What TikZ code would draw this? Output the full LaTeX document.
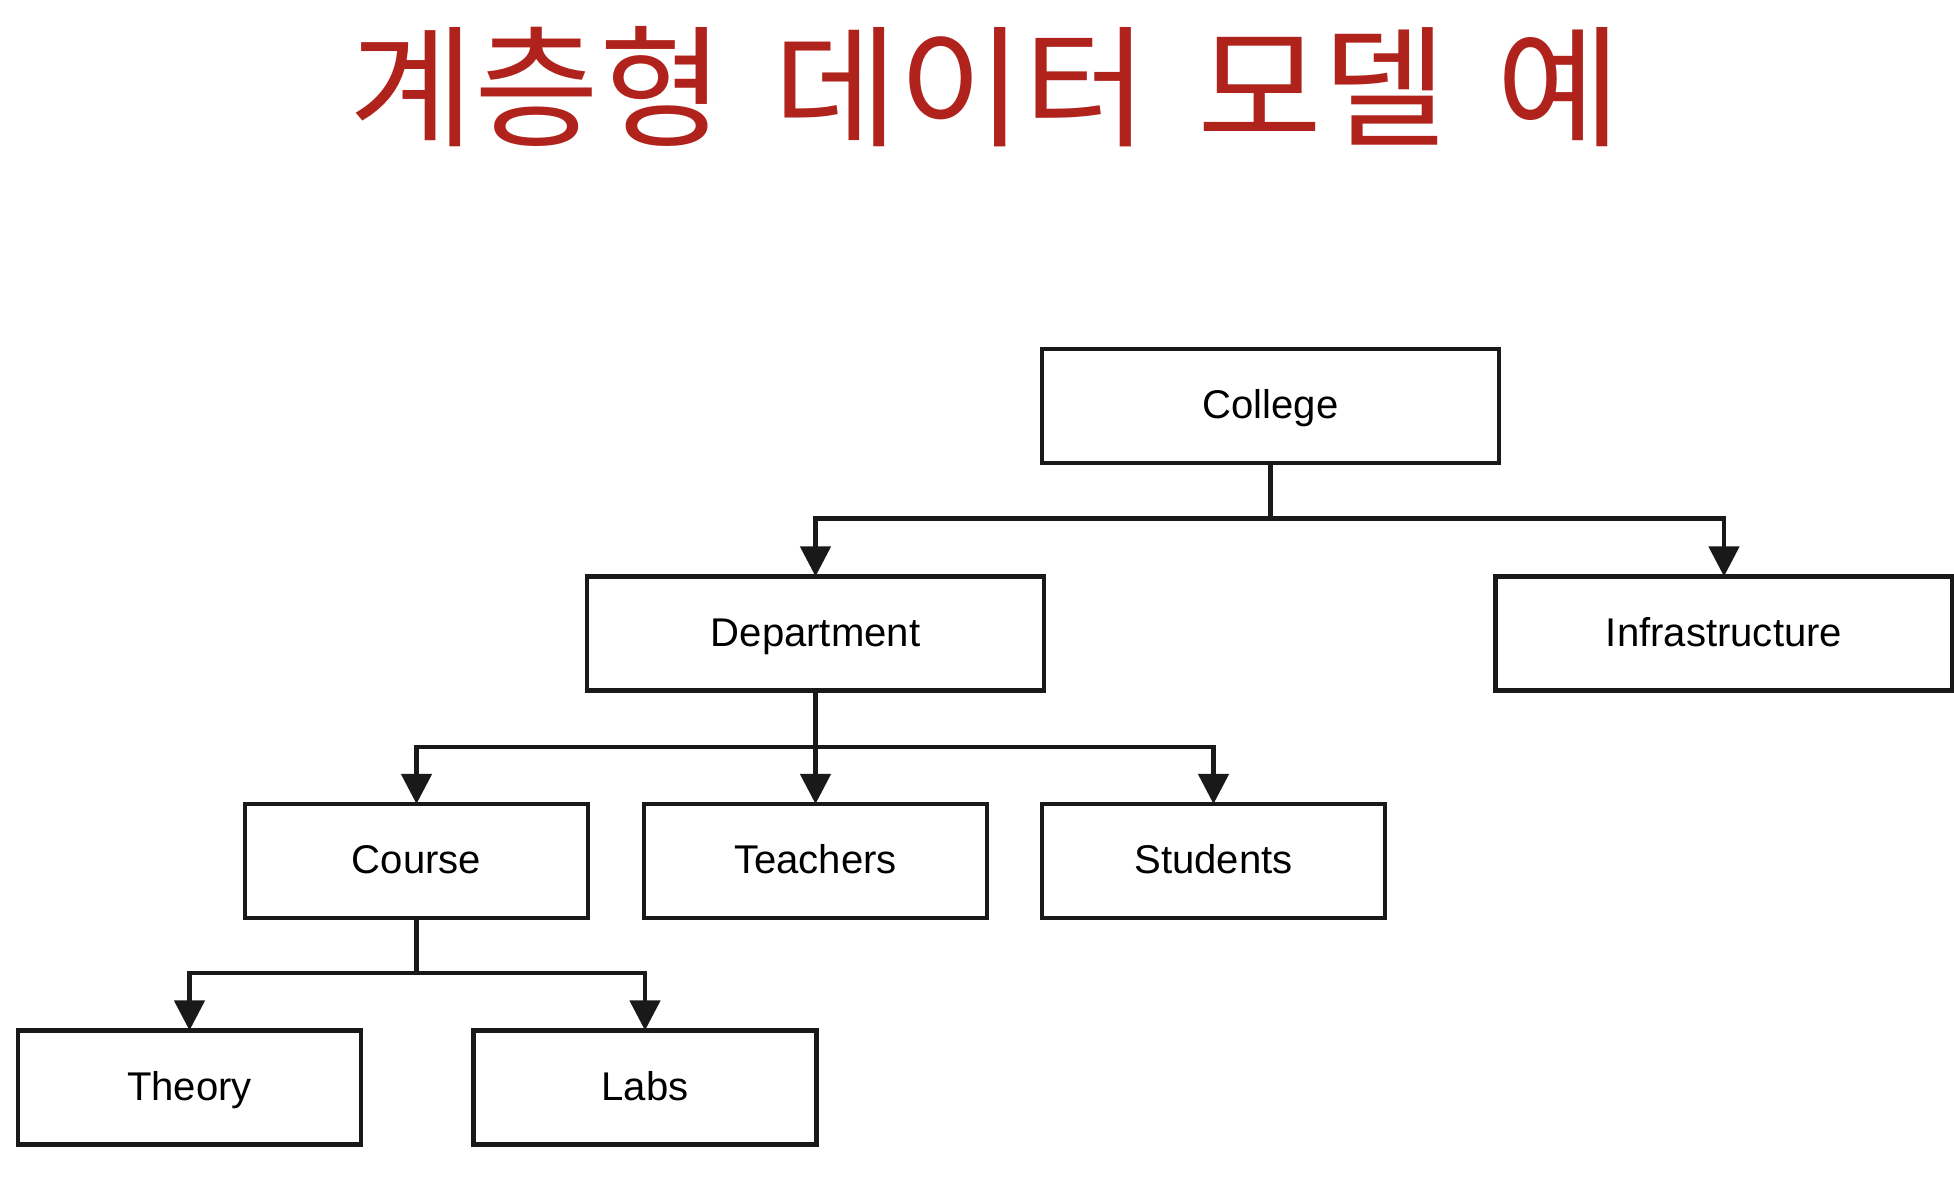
\documentclass[tikz,border=0pt]{standalone}
\usepackage{fontspec}
\usepackage{graphicx}
\setmainfont{Liberation Sans}
\newfontfamily\krfont{Noto Sans CJK KR}
\usetikzlibrary{arrows.meta}
\definecolor{titlered}{RGB}{176,35,28}

\begin{document}
\begin{tikzpicture}[x=0.01cm,y=-0.01cm,>={Triangle[length=3mm,width=3mm]},
    line width=1.3pt,draw=black!90,
    box/.style={draw=black!90,line width=1.3pt,minimum height=1.14cm,
        inner sep=0pt,outer sep=0pt,text height=0.72em,text depth=0pt,
        font=\fontsize{11.4}{13}\selectfont},
    wide/.style={box,minimum width=4.57cm},
    narrow/.style={box,minimum width=3.43cm}]
    \useasboundingbox (0,0) rectangle (1954,1180);

    \node[text=titlered](title) at (985.5,86.5)
        {\krfont\fontsize{37.5}{40}\selectfont\scalebox{1.03}[1]{계층형\hspace{0.36em}데이터\hspace{0.36em}모델\hspace{0.36em}예}};

    \node[wide](col) at (1270.5,406) {College};
    \node[wide](dep) at (815.5,633.5) {Department};
    \node[wide](inf) at (1724,633.5) {Infrastructure};
    \node[narrow](crs) at (416.5,861) {Course};
    \node[narrow](tch) at (815.5,861) {Teachers};
    \node[narrow](stu) at (1213.5,861) {Students};
    \node[narrow](thy) at (189.5,1087.5) {Theory};
    \node[narrow](lab) at (645,1087.5) {Labs};

    \coordinate(c0) at (1270.5,518.5);
    \coordinate(c1) at (815.5,747);
    \coordinate(c2) at (416.5,973);

    \foreach \p/\c in {col/c0, dep/c1, crs/c2}{\draw(\p)--(\c);}
    \foreach \c/\k in {c0/dep, c0/inf, c1/crs, c1/tch, c1/stu, c2/thy, c2/lab}{
        \draw[->](\c)-|(\k.north);
    }
\end{tikzpicture}
\end{document}
